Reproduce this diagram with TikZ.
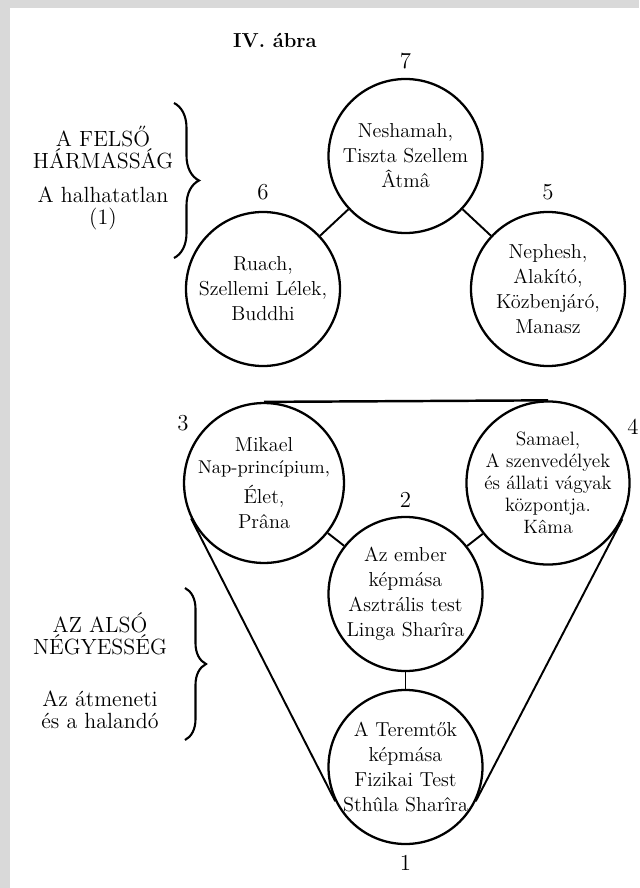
\documentclass[tikz,border=0pt]{standalone}
\usepackage{fontspec}
\usepackage{tikz}
\usetikzlibrary{positioning, decorations.pathreplacing}
\tikzstyle{sphere} = [circle, draw, line width=1.3pt, minimum size=3.08cm, inner sep=0pt, align=center, font=\fontsize{11.5}{14.2}\selectfont]
\tikzstyle{num} = [inner sep=1pt, font=\fontsize{13}{13}\selectfont]
\tikzstyle{side} = [align=center, font=\fontsize{12.5}{12.5}\selectfont]
\tikzstyle{link} = [line width=1.1pt]
\tikzstyle{curly} = [line width=1.2pt, decorate, decoration={brace, amplitude=0.5cm}]

\begin{document}
\begin{tikzpicture}
\useasboundingbox (0,0) rectangle (12.78,-17.76);
\fill [gray!30] (0,0) rectangle (12.78,-17.76);
\fill [white] (0.2,-0.16) rectangle (12.78,-17.76);

\node (title) at (5.5,-0.8) {\fontsize{11.5}{12}\selectfont\bfseries IV. ábra};

% felso harmassag
\node [sphere] (c7) at (8.11,-3.12) {Neshamah,\\Tiszta Szellem\\Âtmâ};
\node [sphere] (c6) at (5.26,-5.78) {Ruach,\\Szellemi Lélek,\\Buddhi};
\node [sphere] (c5) at (10.96,-5.78) {Nephesh,\\Alakító,\\Közbenjáró,\\Manasz};

\node [num] (n7) [above=0.13cm of c7] {7};
\node [num] (n6) [above=0.17cm of c6] {6};
\node [num] (n5) [above=0.17cm of c5] {5};

% also negyesseg
\node [sphere] (c3) at (5.28,-9.66) {Mikael\\[-2pt]{\fontsize{10.5}{12}\selectfont Nap-princípium,}\\[3pt]Élet,\\Prâna};
\node [sphere, font=\fontsize{11}{12.6}\selectfont] (c4) at (10.96,-9.66) {Samael,\\A szenvedélyek\\és állati vágyak\\központja.\\Kâma};
\node [sphere] (c2) at (8.11,-11.88) {Az ember\\képmása\\Asztrális test\\Linga Sharîra};
\node [sphere] (c1) at (8.11,-15.34) {A Teremtők\\képmása\\Fizikai Test\\Sthûla Sharîra};

\node [num] (n3) at (3.66,-8.46) {3};
\node [num] (n4) at (12.66,-8.54) {4};
\node [num] (n2) [above=0.13cm of c2] {2};
\node [num] (n1) [below=0.17cm of c1] {1};

% oldalt
\node [side] (felso) at (2.06,-3.56) {A FELSŐ\\HÁRMASSÁG\\[7pt]A halhatatlan\\(1)};
\node [side] (also) at (2.0,-13.42) {AZ ALSÓ\\NÉGYESSÉG\\[17pt]Az átmeneti\\és a halandó};

\draw [curly] (3.48,-2.06) -- (3.48,-5.16);
\draw [curly, decoration={amplitude=0.42cm}] (3.70,-11.76) -- (3.70,-14.80);

\draw [link] (c7) to (c6);
\draw [link] (c7) to (c5);

\draw [link] (c3) to (c2);
\draw [link] (c2) to (c4);
\draw [link] (c2) to (c1);

\draw [link, line width=1.4pt] (c3.north) -- (c4.north);
\draw [link] (c3.206) -- (c1.206);
\draw [link] (c4.334) -- (c1.334);

\end{tikzpicture}
\end{document}
